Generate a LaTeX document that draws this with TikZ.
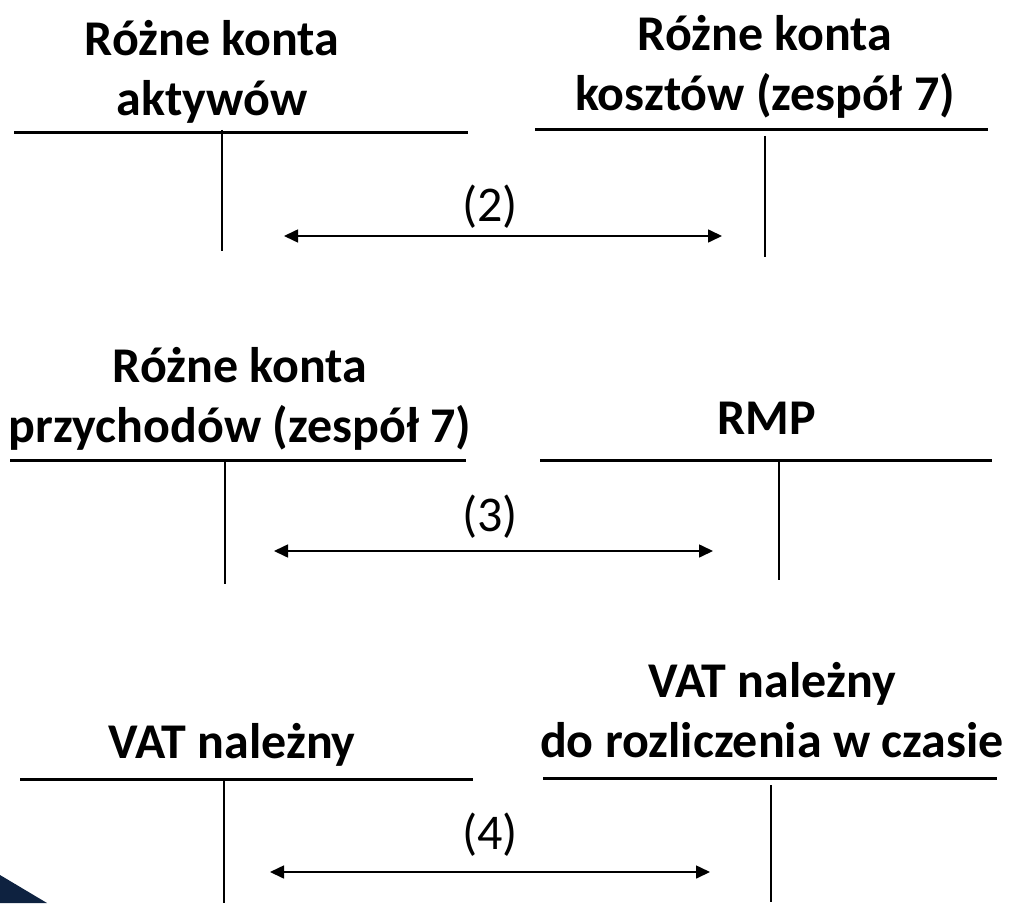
\documentclass[tikz,border=0pt]{standalone}
\usepackage{fontspec}
\setmainfont{Carlito}
\usetikzlibrary{arrows.meta}
\tikzset{title/.style = {font=\bfseries\fontsize{25}{30}\selectfont,
                         align=center, inner sep=0pt},
         entry/.style = {font=\fontsize{25}{30}\selectfont, inner sep=0pt},
         tline/.style = {line width=1.5pt},
         vline/.style = {line width=1.1pt},
         flow/.style = {line width=0.8pt,
                        {Triangle[length=7pt,width=6.5pt]}-{Triangle[length=7pt,width=6.5pt]}}}
\definecolor{navy}{RGB}{14,34,64}

\begin{document}
\begin{tikzpicture}[x=0.5pt, y=-0.5pt]
    \useasboundingbox (0, 0) rectangle (1015, 903);
    \fill [navy] (0, 875) -- (47, 903) -- (0, 903) -- cycle;
    % (2)
    \node (aktywa) [title] at (212, 72) {Różne konta\\aktywów};
    \node (koszty) [title] at (765, 67) {Różne konta\\kosztów (zespół 7)};
    \draw [tline] (14, 133) -- (468, 133);
    \draw [vline] (222, 130) -- (222, 251);
    \draw [tline] (535, 130) -- (988, 130);
    \draw [vline] (765, 136) -- (765, 257);
    \coordinate (a2l) at (284, 236);
    \coordinate (a2r) at (722, 236);
    \draw [flow] (a2l) -- (a2r);
    \node (n2) [entry] at (490, 207) {(2)};
    % (3)
    \node (przychody) [title] at (240, 399) {Różne konta\\przychodów (zespół 7)};
    \node (rmp) [title] at (767, 418) {RMP};
    \draw [tline] (10, 460) -- (466, 460);
    \draw [tline] (540, 460) -- (992, 460);
    \draw [vline] (225, 460) -- (225, 584);
    \draw [vline] (779, 460) -- (779, 580);
    \coordinate (a3l) at (274, 551);
    \coordinate (a3r) at (713, 551);
    \draw [flow] (a3l) -- (a3r);
    \node (n3) [entry] at (490, 517) {(3)};
    % (4)
    \node (vatl) [title] at (232, 745) {VAT należny};
    \node (vatr) [title] at (772, 710) {VAT należny\\do rozliczenia w czasie};
    \draw [tline] (20, 779) -- (473, 779);
    \draw [tline] (543, 778) -- (997, 778);
    \draw [vline] (224, 779) -- (224, 903);
    \draw [vline] (771, 785) -- (771, 902);
    \coordinate (a4l) at (270, 872);
    \coordinate (a4r) at (710, 872);
    \draw [flow] (a4l) -- (a4r);
    \node (n4) [entry] at (490, 835) {(4)};
\end{tikzpicture}
\end{document}
